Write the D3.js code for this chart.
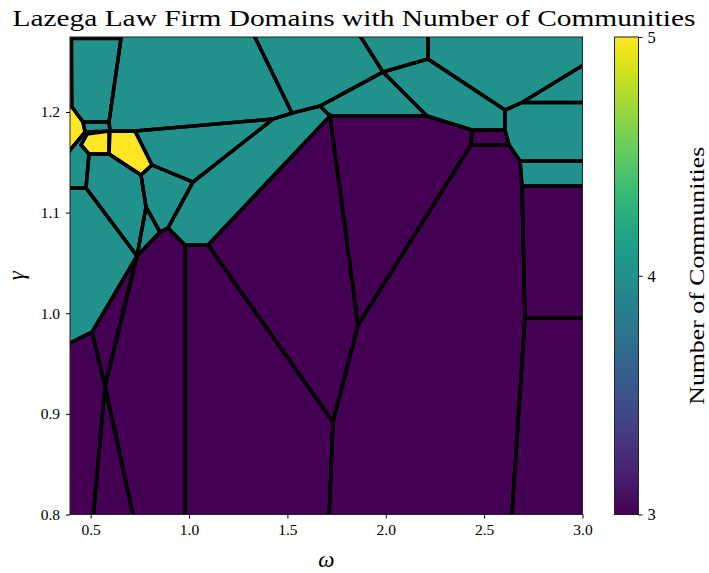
<!doctype html>
<html>
<head>
<style>
body { margin: 0; background: #fff; }
svg { font-family: "Liberation Serif", "DejaVu Serif", serif; }
</style>
<script src="https://cdn.jsdelivr.net/npm/d3@7"></script>
</head>
<body>
<svg width="709" height="573"></svg>
<script>
// axis ranges and ticks
var omegaRange = [0.395, 3.0],
    gammaRange = [0.8, 1.2745],
    omegaTicks = [0.5, 1.0, 1.5, 2.0, 2.5, 3.0],
    gammaTicks = [0.8, 0.9, 1.0, 1.1, 1.2],
    countTicks = [3, 4, 5];

var titleText = "Lazega Law Firm Domains with Number of Communities",
    xLabel = "\u03c9",
    yLabel = "\u03b3",
    cbLabel = "Number of Communities";

// number of communities for each domain
var domainCommunities = [4, 5, 4, 5, 5, 4, 4, 4, 4, 4, 4, 4,
                         3, 3, 3, 3, 3, 3, 3, 3, 3,
                         4, 4, 4, 4, 4, 4, 4,
                         4, 4, 3, 3, 3];

// domain outlines in (omega, gamma)
var domainVertices = [
  [[0.4026,1.2730],[0.6542,1.2730],[0.5932,1.19],[0.4611,1.19],[0.4052,1.2049]],
  [[0.375,1.2059],[0.4052,1.2049],[0.4611,1.19],[0.4712,1.1801],[0.375,1.1572]],
  [[0.4611,1.19],[0.5932,1.19],[0.5983,1.1811],[0.4712,1.1801]],
  [[0.4509,1.1672],[0.4814,1.1781],[0.5932,1.1811],[0.5932,1.1582],[0.4916,1.1582]],
  [[0.5983,1.1811],[0.7254,1.1811],[0.8118,1.1473],[0.7559,1.1374],[0.5932,1.1582]],
  [[0.375,1.1572],[0.4712,1.1801],[0.4814,1.1781],[0.4509,1.1672],[0.4916,1.1582],[0.4763,1.1244],[0.375,1.1244]],
  [[0.4916,1.1582],[0.5932,1.1582],[0.7559,1.1374],[0.7813,1.1056],[0.7356,1.0569],[0.4763,1.1244]],
  [[0.7813,1.1056],[0.8525,1.0807],[0.7356,1.0569]],
  [[0.7559,1.1374],[0.8118,1.1473],[1.0202,1.1304],[0.8931,1.0847],[0.8525,1.0807],[0.7813,1.1056]],
  [[0.7254,1.1811],[1.4268,1.1930],[1.0202,1.1304],[0.8118,1.1473]],
  [[1.4268,1.1930],[1.5234,1.1989],[1.6658,1.2059],[1.7166,1.1960],[1.0965,1.0678],[0.9795,1.0678],[0.8931,1.0847],[1.0202,1.1304]],
  [[0.375,1.1244],[0.4763,1.1244],[0.7356,1.0569],[0.5068,0.9813],[0.375,0.9684]],
  [[0.375,0.9684],[0.5068,0.9813],[0.5729,0.9277],[0.5119,0.795],[0.375,0.795]],
  [[0.5068,0.9813],[0.7356,1.0569],[0.5729,0.9277]],
  [[0.5729,0.9277],[0.7203,0.795],[0.5119,0.795]],
  [[0.7356,1.0569],[0.8525,1.0807],[0.8931,1.0847],[0.9795,1.0678],[0.9795,0.795],[0.7203,0.795],[0.5729,0.9277]],
  [[0.9795,1.0678],[1.0965,1.0678],[1.7318,0.8919],[1.7115,0.795],[0.9795,0.795]],
  [[1.7166,1.1960],[1.8589,0.9883],[1.7318,0.8919],[1.0965,1.0678]],
  [[1.7166,1.1960],[2.2096,1.1960],[2.4384,1.1821],[2.4333,1.1672],[1.8589,0.9883]],
  [[2.4384,1.1821],[2.6061,1.1821],[2.6265,1.1672],[2.4333,1.1672]],
  [[2.4333,1.1672],[2.6265,1.1672],[2.6824,1.1513],[2.6925,1.1264],[2.7077,0.9953],[2.6395,0.795],[1.7115,0.795],[1.7318,0.8919],[1.8589,0.9883]],
  [[0.6542,1.2730],[0.6542,1.28],[1.3206,1.28],[1.5234,1.1989],[1.4268,1.1930],[0.7254,1.1811],[0.5983,1.1811],[0.5932,1.19]],
  [[1.3206,1.28],[1.8548,1.28],[1.9860,1.2397],[1.6658,1.2059],[1.5234,1.1989]],
  [[1.8548,1.28],[2.2147,1.28],[2.2147,1.2526],[1.9860,1.2397]],
  [[2.2147,1.28],[3.028,1.28],[3.028,1.2494],[2.6925,1.2094],[2.6061,1.2019],[2.2147,1.2526]],
  [[1.9860,1.2397],[2.2147,1.2526],[2.6061,1.2019],[2.6061,1.1821],[2.4384,1.1821],[2.2096,1.1960]],
  [[1.6658,1.2059],[1.9860,1.2397],[2.2096,1.1960],[1.7166,1.1960]],
  [[2.6925,1.2094],[3.028,1.2494],[3.028,1.2094]],
  [[2.6061,1.2019],[2.6925,1.2094],[3.028,1.2094],[3.028,1.1513],[2.6824,1.1513],[2.6265,1.1672],[2.6061,1.1821]],
  [[2.6824,1.1513],[3.028,1.1513],[3.028,1.1264],[2.6925,1.1264]],
  [[2.6925,1.1264],[3.028,1.1264],[3.028,0.9953],[2.7077,0.9953]],
  [[2.7077,0.9953],[3.028,0.9953],[3.028,0.795],[2.6395,0.795]]
];

var svg = d3.select("svg"),
    plot = {left: 70, right: 582.5, top: 37, bottom: 514.5};

var x = d3.scaleLinear().domain(omegaRange).range([plot.left, plot.right]),
    y = d3.scaleLinear().domain(gammaRange).range([plot.bottom, plot.top]),
    color = d3.scaleSequential(d3.interpolateViridis).domain([3, 5]);

svg.append("clipPath").attr("id", "plot-clip")
  .append("rect")
    .attr("x", plot.left).attr("y", plot.top)
    .attr("width", plot.right - plot.left).attr("height", plot.bottom - plot.top);

var cells = domainVertices.map(function(pts, i) { return {n: domainCommunities[i], pts: pts}; });
var line = d3.line().x(function(d) { return x(d[0]); }).y(function(d) { return y(d[1]); }).curve(d3.curveLinearClosed);

var g = svg.append("g").attr("clip-path", "url(#plot-clip)");
g.selectAll("path.fill")
  .data(cells)
  .enter().append("path")
    .attr("class", "fill")
    .attr("d", function(d) { return line(d.pts); })
    .attr("fill", function(d) { return color(d.n); })
    .attr("stroke", function(d) { return color(d.n); })
    .attr("stroke-width", 1);
g.selectAll("path.edge")
  .data(cells)
  .enter().append("path")
    .attr("class", "edge")
    .attr("d", function(d) { return line(d.pts); })
    .attr("fill", "none")
    .attr("stroke", "#000")
    .attr("stroke-width", 3.5)
    .attr("stroke-linejoin", "miter")
    .attr("stroke-miterlimit", 3);

// frame
svg.append("rect")
  .attr("x", plot.left).attr("y", plot.top)
  .attr("width", plot.right - plot.left).attr("height", plot.bottom - plot.top)
  .attr("fill", "none").attr("stroke", "#222").attr("stroke-width", 1);

var xAxis = svg.append("g")
  .attr("transform", "translate(0," + plot.bottom + ")")
  .call(d3.axisBottom(x).tickValues(omegaTicks).tickFormat(d3.format(".1f")).tickSize(4).tickPadding(5));
var yAxis = svg.append("g")
  .attr("transform", "translate(" + plot.left + ",0)")
  .call(d3.axisLeft(y).tickValues(gammaTicks).tickFormat(d3.format(".1f")).tickSize(4).tickPadding(6));
[xAxis, yAxis].forEach(function(a) {
  a.select(".domain").remove();
  a.selectAll("text").attr("font-family", "Liberation Serif, serif").attr("font-size", 15.5).attr("fill", "#000");
  a.selectAll("line").attr("stroke", "#000");
});

svg.append("text")
  .attr("x", 354).attr("y", 26)
  .attr("text-anchor", "middle")
  .attr("font-size", 24)
  .attr("textLength", 683).attr("lengthAdjust", "spacingAndGlyphs")
  .text(titleText);

svg.append("text")
  .attr("x", (plot.left + plot.right) / 2).attr("y", 567)
  .attr("text-anchor", "middle").attr("font-size", 23).attr("font-style", "italic")
  .text(xLabel);
svg.append("text")
  .attr("transform", "translate(24," + ((plot.top + plot.bottom) / 2) + ") rotate(-90)")
  .attr("text-anchor", "middle").attr("font-size", 23).attr("font-style", "italic")
  .text(yLabel);

// colorbar
var cb = {left: 614.5, width: 24},
    cbScale = d3.scaleLinear().domain([3, 5]).range([plot.bottom, plot.top]);
var grad = svg.append("defs").append("linearGradient")
  .attr("id", "cb-grad").attr("x1", 0).attr("y1", 1).attr("x2", 0).attr("y2", 0);
grad.selectAll("stop")
  .data(d3.range(0, 1.0001, 0.05))
  .enter().append("stop")
    .attr("offset", function(d) { return d; })
    .attr("stop-color", function(d) { return d3.interpolateViridis(d); });
svg.append("rect")
  .attr("x", cb.left).attr("y", plot.top)
  .attr("width", cb.width).attr("height", plot.bottom - plot.top)
  .attr("fill", "url(#cb-grad)").attr("stroke", "#222").attr("stroke-width", 1);
var cAxis = svg.append("g")
  .attr("transform", "translate(" + (cb.left + cb.width) + ",0)")
  .call(d3.axisRight(cbScale).tickValues(countTicks).tickFormat(d3.format("d")).tickSize(4).tickPadding(5));
cAxis.select(".domain").remove();
cAxis.selectAll("text").attr("font-family", "Liberation Serif, serif").attr("font-size", 16.5).attr("fill", "#000");
cAxis.selectAll("line").attr("stroke", "#000");

svg.append("text")
  .attr("transform", "translate(704," + ((plot.top + plot.bottom) / 2) + ") rotate(-90)")
  .attr("text-anchor", "middle").attr("font-size", 22)
  .attr("textLength", 258).attr("lengthAdjust", "spacingAndGlyphs")
  .text(cbLabel);
</script>
</body>
</html>
